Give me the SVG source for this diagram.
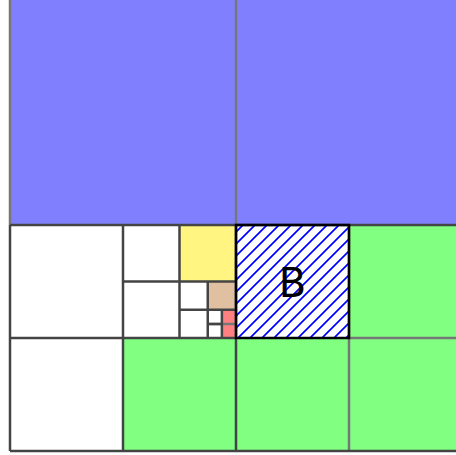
<svg xmlns="http://www.w3.org/2000/svg" width="456" height="455" viewBox="0 0 456 455">
<style>
.blue{fill:#8080ff}
.green{fill:#80ff80}
.white{fill:#ffffff}
.yellow{fill:#fff580}
.tan{fill:#e0c0a0}
.red{fill:#ff8080}
.dk{stroke:#444;stroke-width:2.5;fill:none}
.lt{stroke:#777;stroke-width:2.5;fill:none}
.lbl{font-family:"DejaVu Sans","Liberation Sans",sans-serif;font-size:40px;fill:#000}
</style>
<defs>
<pattern id="hatch" patternUnits="userSpaceOnUse" width="12" height="12">
<path d="M-1,13 L13,-1 M-7,7 L7,-7 M5,19 L19,5" stroke="#0000ff" stroke-width="1.7"/>
</pattern>
</defs>
<rect width="456" height="455" fill="#ffffff"/>
<g id="n-top-left"><rect class="blue" x="10" y="-2" width="226" height="227"/></g>
<g id="n-top-right"><rect class="blue" x="236" y="-2" width="226" height="227"/></g>
<g id="n-bl-a"><rect class="white" x="10" y="225" width="113" height="113"/></g>
<g id="n-bl-c"><rect class="white" x="10" y="338" width="113" height="113"/></g>
<g id="n-bl-d"><rect class="green" x="123" y="338" width="113" height="113"/></g>
<g id="n-s1"><rect class="white" x="123" y="225" width="56.5" height="56.5"/></g>
<g id="n-s2"><rect class="yellow" x="179.5" y="225" width="56.5" height="56.5"/></g>
<g id="n-s3"><rect class="white" x="123" y="281.5" width="56.5" height="56.5"/></g>
<g id="n-t1"><rect class="white" x="179.5" y="281.5" width="28.25" height="28.25"/></g>
<g id="n-t2"><rect class="tan" x="207.75" y="281.5" width="28.25" height="28.25"/></g>
<g id="n-t3"><rect class="white" x="179.5" y="309.75" width="28.25" height="28.25"/></g>
<g id="n-u1"><rect class="white" x="207.75" y="309.75" width="14.125" height="14.125"/></g>
<g id="n-u2"><rect class="red" x="221.875" y="309.75" width="14.125" height="14.125"/></g>
<g id="n-u3"><rect class="white" x="207.75" y="323.875" width="14.125" height="14.125"/></g>
<g id="n-u4"><rect class="red" x="221.875" y="323.875" width="14.125" height="14.125"/></g>
<g id="n-br-b"><rect class="green" x="349" y="225" width="113" height="113"/></g>
<g id="n-br-c"><rect class="green" x="236" y="338" width="113" height="113"/></g>
<g id="n-br-d"><rect class="green" x="349" y="338" width="113" height="113"/></g>
<g id="connectors">
<path class="lt" d="M10,-2 V225 M236,-2 V225 M349,338 V451 M349,338 H462 M349,225 V338 M207.75,323.875 H236"/>
<path class="dk" d="M10,225 H462 M10,225 V451 M10,451 H462 M236,225 V451 M123,225 V451 M10,338 H236 M123,281.5 H236 M179.5,225 V338 M179.5,309.75 H236 M207.75,281.5 V338 M207.75,323.875 H221.875 M221.875,309.75 V338"/>
</g>
<g id="n-B">
<rect x="236" y="225" width="113" height="113" fill="url(#hatch)"/>
<rect x="236" y="225" width="113" height="113" fill="none" stroke="#000" stroke-width="2.5"/>
<text class="lbl" x="292.5" y="297" text-anchor="middle">B</text>
</g>
</svg>
